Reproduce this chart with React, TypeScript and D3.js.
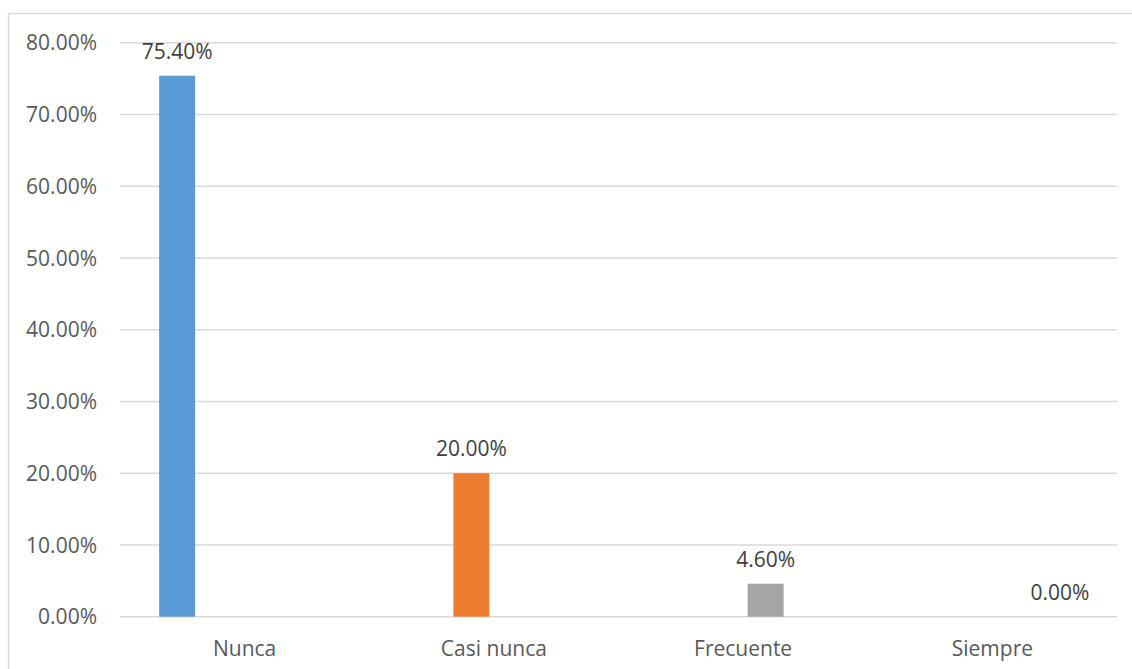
import React from "react";
import * as d3 from "d3";

// Frequency of responses, one series per answer
const categories = ["Nunca", "Casi nunca", "Frecuente", "Siempre"];
const seriesNames = ["Nunca", "Casi nunca", "Frecuente", "Siempre"];
const seriesValues = [75.4, 20.0, 4.6, 0.0];
const seriesColors = ["#5B9BD5", "#ED7D31", "#A5A5A5", "#FFC000"];
const yTicks = [0, 10, 20, 30, 40, 50, 60, 70, 80];

const W = 1132;
const H = 669;
const plot = { left: 120, right: 1117, top: 42.7, bottom: 616.7 };
const FONT = "'Open Sans', 'DejaVu Sans', sans-serif";
const FS = 21;

export default function App() {
  const x = d3
    .scaleBand<string>()
    .domain(categories)
    .range([plot.left, plot.right])
    .paddingInner(0)
    .paddingOuter(0);
  const y = d3.scaleLinear().domain([0, 80]).range([plot.bottom, plot.top]);

  const barW = 36;
  const step = 45;
  const fmt = (v: number) => v.toFixed(2) + "%";

  return (
    <svg
      width={W}
      height={H}
      style={{ position: "absolute", left: 0, top: 0, background: "#fff" }}
      fontFamily={FONT}
    >
      {/* chart frame */}
      <rect x={8.5} y={13.5} width={1300} height={800} fill="#fff" stroke="#d9d9d9" strokeWidth={1.5} />

      {/* gridlines and y-axis labels */}
      {yTicks.map((t) => (
        <g key={t}>
          <line
            x1={plot.left}
            x2={plot.right}
            y1={y(t)}
            y2={y(t)}
            stroke="#d9d9d9"
            strokeWidth={1.4}
          />
          <text
            x={97}
            y={y(t)}
            dy="0.36em"
            textAnchor="end"
            fontSize={FS}
            fill="#595959"
          >
            {fmt(t)}
          </text>
        </g>
      ))}

      {/* bars: each series only has a value in its own category */}
      {seriesNames.map((s, i) => {
        const cat = categories[i];
        const cx = (x(cat) ?? 0) + x.bandwidth() / 2 + (i - 1.5) * step;
        const v = seriesValues[i];
        return (
          <g key={s}>
            <rect
              x={cx - barW / 2}
              y={y(v)}
              width={barW}
              height={y(0) - y(v)}
              fill={seriesColors[i]}
            />
            <text
              x={cx}
              y={y(v) - 17}
              textAnchor="middle"
              fontSize={FS}
              fill="#404040"
            >
              {fmt(v)}
            </text>
          </g>
        );
      })}

      {/* category labels */}
      {categories.map((c) => (
        <text
          key={c}
          x={(x(c) ?? 0) + x.bandwidth() / 2}
          y={656}
          textAnchor="middle"
          fontSize={FS}
          fill="#595959"
        >
          {c}
        </text>
      ))}
    </svg>
  );
}
